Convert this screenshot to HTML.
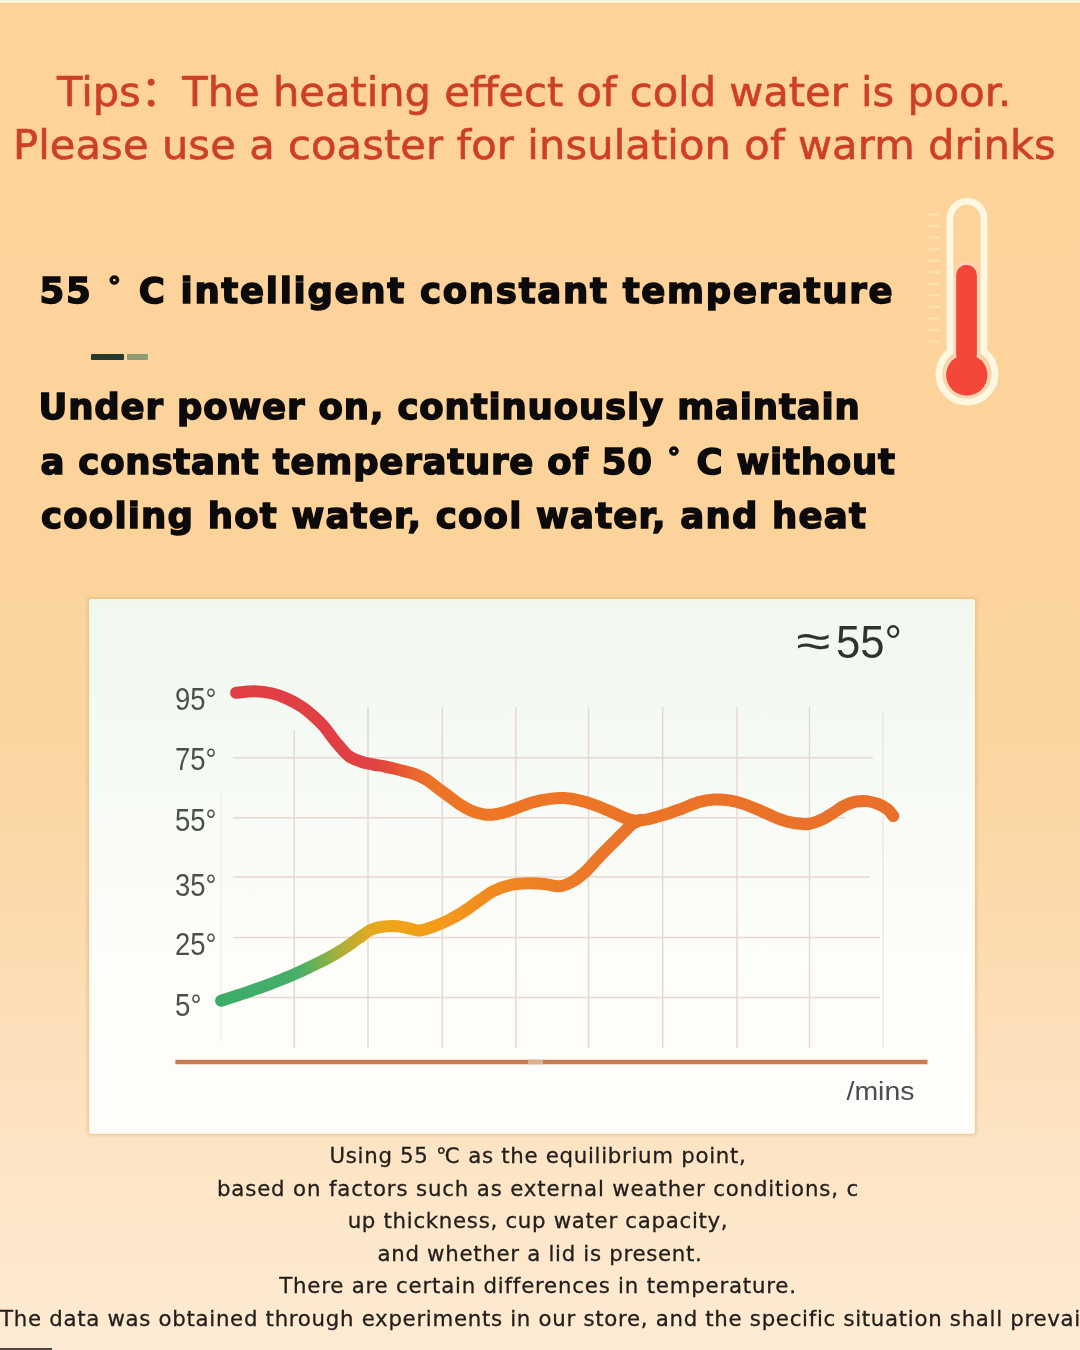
<!DOCTYPE html>
<html><head><meta charset="utf-8">
<style>
html,body{margin:0;padding:0;}
body{width:1080px;height:1350px;overflow:hidden;position:relative;background:linear-gradient(180deg,#fdd39a 0%,#fcd39b 40%,#fcd5a0 55%,#fcdbb0 70%,#fde4c4 85%,#fdebd3 100%);font-family:"Liberation Sans",sans-serif;}
.t{position:absolute;white-space:nowrap;margin:0;}
.tip{color:#cd3f29;-webkit-text-stroke:0.6px #cd3f29;font-family:"DejaVu Sans","Noto Sans CJK SC",sans-serif;font-size:41.6px;line-height:1;}
.b{color:#0c0a0a;font-family:"DejaVu Sans",sans-serif;font-weight:bold;font-size:35.5px;line-height:1;-webkit-text-stroke:1.5px #0c0a0a;}
.cap{color:#221e1b;-webkit-text-stroke:0.3px #221e1b;font-family:"DejaVu Sans",sans-serif;font-size:21.3px;letter-spacing:0.7px;line-height:1;left:0;width:1076px;text-align:center;}
.dg{font-size:0.72em;vertical-align:0.3em;margin:0 2.2px 0 1.6px;}
#card{position:absolute;left:89px;top:599px;width:886px;height:535px;background:linear-gradient(180deg,#f0f8ef 0%,#f4faf3 22%,#f9fbf7 45%,#fdfdf9 65%,#fefdfb 100%);border-radius:3px;box-shadow:inset 0 0 1px 1.5px rgba(253,245,225,0.9),0 0 3px 1.5px rgba(215,175,115,0.45);}
svg{position:absolute;left:0;top:0;}
</style></head><body>
<div class="t tip" id="l1" style="left:57px;top:70.6px;">Tips：The heating effect of cold water is poor.</div>
<div class="t tip" id="l2" style="left:13px;top:124.1px;letter-spacing:0.1px;">Please use a coaster for insulation of warm drinks</div>
<div class="t b" id="h1" style="left:39.5px;top:273px;letter-spacing:1.7px;">55 <span class="dg">°</span> C intelligent constant temperature</div>
<div style="position:absolute;left:90.7px;top:354.3px;width:33.4px;height:5.8px;background:#26392f;border-radius:1px;"></div>
<div style="position:absolute;left:127.2px;top:354.3px;width:20.8px;height:5.8px;background:#8e9c76;border-radius:1px;"></div>
<div class="t b" id="b1" style="left:38.5px;top:388.9px;letter-spacing:0.84px;">Under power on, continuously maintain</div>
<div class="t b" id="b2" style="left:40.5px;top:443.5px;letter-spacing:0.78px;">a constant temperature of 50 <span class="dg">°</span> C without</div>
<div class="t b" id="b3" style="left:41px;top:498.1px;letter-spacing:1.19px;">cooling hot water, cool water, and heat</div>
<div id="card"></div>
<div style="position:absolute;left:0;top:0;width:1080px;height:2.5px;background:#fdf4d6;"></div>
<div style="position:absolute;left:0;top:2.5px;width:1080px;height:1.5px;background:#efd3a2;"></div>
<div style="position:absolute;left:0;top:1348px;width:52px;height:2px;background:#4e4640;"></div>
<svg width="1080" height="1350" viewBox="0 0 1080 1350">
<defs>
<filter id="bl" x="-5%" y="-5%" width="110%" height="110%"><feGaussianBlur stdDeviation="0.55"/></filter>
<linearGradient id="gh" gradientUnits="userSpaceOnUse" x1="230" y1="0" x2="900" y2="0"><stop offset="0.000" stop-color="#e03e42"/><stop offset="0.212" stop-color="#e14044"/><stop offset="0.242" stop-color="#e44e3a"/><stop offset="0.269" stop-color="#e8642e"/><stop offset="0.299" stop-color="#ec7228"/><stop offset="0.358" stop-color="#ee7624"/><stop offset="1.000" stop-color="#e9702a"/></linearGradient>
<linearGradient id="gc" gradientUnits="userSpaceOnUse" x1="220" y1="0" x2="642" y2="0"><stop offset="0.000" stop-color="#3aac6a"/><stop offset="0.190" stop-color="#4aaf68"/><stop offset="0.237" stop-color="#74b14e"/><stop offset="0.284" stop-color="#aab03a"/><stop offset="0.327" stop-color="#cdaa2a"/><stop offset="0.360" stop-color="#e6a81e"/><stop offset="0.415" stop-color="#f2a418"/><stop offset="0.521" stop-color="#f49a1a"/><stop offset="0.616" stop-color="#f28d1e"/><stop offset="0.758" stop-color="#ee8024"/><stop offset="0.900" stop-color="#eb7629"/><stop offset="1.000" stop-color="#e9722a"/></linearGradient>
</defs>
<g stroke="#e6d2c8" stroke-width="1.5" fill="none" filter="url(#bl)" opacity="0.85">
<path d="M233,757.8H873M233,817.8H845M233,877H870M233,937.6H880M233,997.6H880"/>
<path d="M294.2,730V1048M368,707V1048M442.3,707V1048M515.8,707V1048M588.5,707V1048M662.7,707V1048M737,707V1048M809.5,707V1048"/>
<path d="M221,790V1042" stroke-opacity="0.35"/>
<path d="M883,712V1048" stroke-opacity="0.6"/>
</g>
<path d="M175.3,1062H927.5" stroke="#c67b50" stroke-width="4.5"/>
<path d="M528,1062H543" stroke="#ddb08c" stroke-width="4.5"/>
<path d="M221.1,1000.7 C224.2,999.7 234.0,996.6 239.6,994.8 C245.2,992.9 249.4,991.3 254.4,989.6 C259.4,987.9 264.4,986.2 269.3,984.4 C274.2,982.5 279.2,980.5 284.1,978.5 C289.0,976.5 294.0,974.5 298.9,972.3 C303.8,970.1 308.8,967.6 313.7,965.2 C318.6,962.8 323.6,960.5 328.5,957.8 C333.4,955.1 338.4,952.1 343.3,948.9 C348.2,945.7 353.6,941.6 358.1,938.5 C362.6,935.4 366.5,932.0 370.5,930.0 C374.5,928.0 377.6,927.3 382.2,926.7 C386.8,926.1 393.0,925.8 397.8,926.2 C402.6,926.6 407.4,928.2 411.1,928.9 C414.8,929.6 416.3,930.9 420.0,930.5 C423.7,930.1 428.5,928.5 433.3,926.7 C438.1,925.0 443.7,922.6 448.9,920.0 C454.1,917.4 459.2,914.4 464.4,911.1 C469.6,907.8 475.2,903.3 480.0,900.0 C484.8,896.7 488.1,893.6 493.3,891.1 C498.5,888.6 505.2,886.2 511.1,884.9 C517.0,883.6 523.4,883.4 528.9,883.3 C534.4,883.1 539.2,883.5 544.4,884.0 C549.6,884.5 555.2,886.7 560.0,886.2 C564.8,885.7 568.8,883.7 573.3,881.1 C577.8,878.5 582.5,874.4 586.7,870.5 C590.9,866.6 594.3,862.0 598.5,857.6 C602.7,853.2 607.7,848.3 611.9,844.1 C616.1,839.9 620.2,835.6 623.7,832.2 C627.2,828.8 629.7,825.9 632.6,823.8 C635.5,821.7 639.6,820.5 641.0,819.8" stroke="url(#gc)" stroke-width="12" fill="none" stroke-linecap="round" stroke-linejoin="round"/>
<path d="M236.1,692.8 C239.2,692.5 248.6,691.2 254.6,691.3 C260.6,691.4 267.0,692.3 272.4,693.5 C277.8,694.7 282.3,696.5 287.2,698.7 C292.1,700.9 297.6,703.9 302.0,706.9 C306.4,709.9 310.2,713.2 313.9,716.5 C317.6,719.8 321.1,723.2 324.3,726.9 C327.5,730.6 330.4,735.2 333.1,738.7 C335.8,742.2 337.9,744.6 340.6,747.6 C343.3,750.6 345.9,754.1 349.4,756.5 C352.8,758.9 357.4,760.5 361.3,761.8 C365.2,763.1 369.2,763.7 373.1,764.5 C377.1,765.3 380.6,765.6 385.0,766.5 C389.4,767.4 394.7,768.8 399.6,770.0 C404.5,771.2 409.9,772.4 414.4,774.0 C418.8,775.6 422.6,777.3 426.3,779.5 C430.0,781.7 433.2,784.8 436.7,787.3 C440.1,789.8 443.3,792.1 447.0,794.8 C450.7,797.5 454.9,801.1 458.9,803.7 C462.8,806.3 466.8,808.7 470.7,810.4 C474.6,812.1 479.1,813.4 482.6,814.1 C486.1,814.8 488.1,815.0 491.5,814.8 C494.9,814.5 499.2,813.7 503.3,812.6 C507.4,811.5 511.2,810.0 516.0,808.3 C520.8,806.6 526.4,804.1 532.0,802.5 C537.6,800.9 544.2,799.6 549.6,798.9 C555.0,798.2 559.5,797.9 564.4,798.1 C569.3,798.4 574.3,799.3 579.3,800.4 C584.2,801.5 589.2,803.1 594.1,804.8 C599.0,806.5 604.0,808.6 608.9,810.7 C613.8,812.8 619.5,815.8 623.7,817.4 C627.9,819.0 630.4,820.0 634.1,820.4 C637.8,820.8 641.9,820.2 645.9,819.6 C649.9,819.0 654.0,817.6 658.0,816.5 C662.0,815.4 665.7,814.5 670.0,813.0 C674.3,811.5 679.1,809.6 684.0,807.8 C688.9,805.9 694.5,803.3 699.6,801.9 C704.7,800.5 709.5,799.9 714.4,799.6 C719.3,799.4 724.3,799.6 729.3,800.4 C734.2,801.1 739.2,802.5 744.1,804.1 C749.0,805.7 754.0,807.9 758.9,810.0 C763.8,812.1 768.8,814.7 773.7,816.7 C778.6,818.7 783.6,820.7 788.5,821.9 C793.4,823.1 799.5,823.8 803.3,824.1 C807.1,824.4 808.0,824.3 811.1,823.5 C814.2,822.7 818.5,821.2 822.2,819.4 C825.9,817.6 829.6,815.1 833.3,812.8 C837.0,810.5 840.7,807.5 844.4,805.6 C848.1,803.8 851.9,802.5 855.6,801.7 C859.3,801.0 863.0,800.7 866.7,801.1 C870.4,801.5 874.3,802.5 877.8,803.9 C881.3,805.3 885.2,807.4 887.8,809.4 C890.4,811.4 892.4,815.0 893.3,816.1" stroke="url(#gh)" stroke-width="12" fill="none" stroke-linecap="round" stroke-linejoin="round"/>
<g font-family="Liberation Sans, sans-serif" fill="#4a4f4e" font-size="30.5" lengthAdjust="spacingAndGlyphs">
<text x="175" y="710.3" textLength="41.5" lengthAdjust="spacingAndGlyphs">95°</text>
<text x="175" y="769.5" textLength="41.5" lengthAdjust="spacingAndGlyphs">75°</text>
<text x="175" y="830.9" textLength="41.5" lengthAdjust="spacingAndGlyphs">55°</text>
<text x="175" y="896" textLength="41.5" lengthAdjust="spacingAndGlyphs">35°</text>
<text x="175" y="954.7" textLength="41.5" lengthAdjust="spacingAndGlyphs">25°</text>
<text x="175" y="1015.5" textLength="26.5" lengthAdjust="spacingAndGlyphs">5°</text>
</g>
<text x="796.5" y="658" font-family="Liberation Sans, sans-serif" font-size="46.5" fill="#2d3430" textLength="34" dy="-1.5" lengthAdjust="spacingAndGlyphs">≈</text>
<text x="836" y="658.3" font-family="Liberation Sans, sans-serif" font-size="46.5" fill="#2d3430" textLength="66" lengthAdjust="spacingAndGlyphs">55°</text>
<text x="846.5" y="1100.2" font-family="Liberation Sans, sans-serif" font-size="26.5" fill="#4a4e4e" textLength="68" lengthAdjust="spacingAndGlyphs">/mins</text>
<g>
<path d="M950,218.3 A17,17 0 0 1 984,218.3 V351.8 A28,28 0 1 1 950,351.8 Z" fill="none" stroke="#fef8e2" stroke-width="6.8"/>
<g stroke="#fcdcc6" stroke-width="3.5" fill="#fcdcc6"><rect x="956.1" y="264.8" width="20.8" height="100" rx="10.4"/><circle cx="966.8" cy="375" r="20.7"/></g>
<rect x="956.1" y="264.8" width="20.8" height="100" rx="10.4" fill="#f4473a"/>
<circle cx="966.8" cy="375" r="20.7" fill="#f4473a"/>
<g stroke="#fbe7b4" stroke-width="2.6" stroke-opacity="0.7">
<path d="M929,214.4H940.5M929,226.0H940.5M929,237.5H940.5M929,249.1H940.5M929,260.6H940.5M929,272.1H940.5M929,283.7H940.5M929,295.2H940.5M929,306.8H940.5M929,318.4H940.5M929,329.9H940.5M929,341.5H940.5"/>
</g>
</g>
</svg>
<div class="t cap" style="top:1144.7px;">Using 55 ℃ as the equilibrium point,</div>
<div class="t cap" style="top:1177.7px;letter-spacing:0.85px;">based on factors such as external weather conditions, c</div>
<div class="t cap" style="top:1209.7px;">up thickness, cup water capacity,</div>
<div class="t cap" style="top:1242.5px;left:2px;">and whether a lid is present.</div>
<div class="t cap" style="top:1275px;letter-spacing:0.79px;">There are certain differences in temperature.</div>
<div class="t cap" style="top:1308px;">The data was obtained through experiments in our store, and the specific situation shall prevail</div>
</body></html>
